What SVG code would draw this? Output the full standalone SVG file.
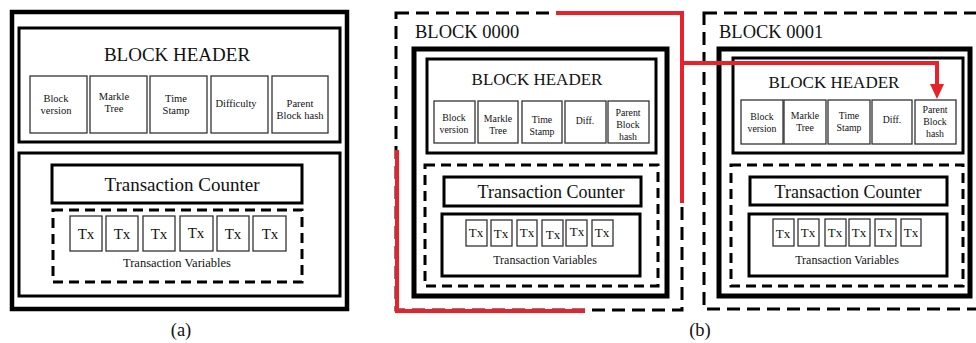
<svg xmlns="http://www.w3.org/2000/svg" width="976" height="343" viewBox="0 0 976 343">
<defs>
<style>
text{font-family:"Liberation Serif","Times New Roman",serif;fill:#111;text-anchor:middle}
.bx{fill:#fff;stroke:#000}
.fld{fill:#fff;stroke:#333;stroke-width:1.3}
.dash{fill:none;stroke:#000;stroke-width:3;stroke-dasharray:10 6}
.odash{fill:none;stroke:#000;stroke-width:3;stroke-dasharray:13 7}
.red{fill:none;stroke:#e8222a;stroke-width:4}
.f10{font-size:10.5px}
.f9{font-size:9.8px}
.tx{font-size:15px}
.tx2{font-size:13px}
.cap{font-size:18.5px}
</style>
</defs>
<rect width="976" height="343" fill="#fff"/>

<!-- Panel (a) -->
<g id="block-a">
<rect class="bx" x="12" y="12" width="335" height="297" stroke-width="4.5"/>
<g id="a-header">
<rect class="bx" x="19" y="28" width="321" height="114" stroke-width="3"/>
<text x="177" y="61" style="font-size:19px">BLOCK HEADER</text>
<rect class="fld" x="30" y="76" width="57" height="57"/>
<rect class="fld" x="90" y="76" width="57" height="57"/>
<rect class="fld" x="150" y="76" width="57" height="57"/>
<rect class="fld" x="211" y="76" width="57" height="57"/>
<rect class="fld" x="272" y="76" width="56" height="57"/>
<text class="f10" x="56" y="102">Block</text><text class="f10" x="56" y="114">version</text>
<text class="f10" x="114" y="100">Markle</text><text class="f10" x="114" y="112">Tree</text>
<text class="f10" x="176" y="102">Time</text><text class="f10" x="176" y="114">Stamp</text>
<text class="f10" x="236" y="107">Difficulty</text>
<text class="f10" x="300" y="107">Parent</text><text class="f10" x="300" y="119">Block hash</text>
</g>
<g id="a-body">
<rect class="bx" x="19" y="153" width="321" height="143" stroke-width="3"/>
<rect class="bx" x="52" y="165" width="250" height="38" stroke-width="3"/>
<text x="182" y="191" style="font-size:19px">Transaction Counter</text>
<rect class="dash" x="53" y="210" width="249" height="72"/>
<rect class="fld" x="70" y="216" width="32" height="35"/>
<rect class="fld" x="106" y="216" width="32" height="35"/>
<rect class="fld" x="143" y="216" width="32" height="35"/>
<rect class="fld" x="180" y="216" width="33" height="35"/>
<rect class="fld" x="217" y="216" width="32" height="35"/>
<rect class="fld" x="253" y="216" width="33" height="35"/>
<text class="tx" x="86" y="239">Tx</text>
<text class="tx" x="122" y="239">Tx</text>
<text class="tx" x="159" y="239">Tx</text>
<text class="tx" x="196" y="238">Tx</text>
<text class="tx" x="233" y="239">Tx</text>
<text class="tx" x="270" y="239">Tx</text>
<text x="177" y="267" style="font-size:12.5px">Transaction Variables</text>
</g>
<text class="cap" x="181" y="336">(a)</text>
</g>

<!-- Block 0000 -->
<g id="block-0000">
<rect class="odash" x="396" y="13" width="286" height="297"/>
<text x="415" y="38" style="font-size:18.5px;text-anchor:start">BLOCK 0000</text>
<rect class="bx" x="414" y="49" width="253" height="247" stroke-width="5"/>
<rect class="bx" x="427" y="59" width="229" height="94" stroke-width="3"/>
<text x="537" y="85" style="font-size:17px">BLOCK HEADER</text>
<rect class="fld" x="434" y="101" width="41" height="42"/>
<rect class="fld" x="478" y="101" width="40" height="42"/>
<rect class="fld" x="522" y="101" width="40" height="42"/>
<rect class="fld" x="565" y="101" width="41" height="42"/>
<rect class="fld" x="608" y="101" width="41" height="42"/>
<text class="f9" x="454" y="121">Block</text><text class="f9" x="454" y="133">version</text>
<text class="f9" x="498" y="122">Markle</text><text class="f9" x="498" y="134">Tree</text>
<text class="f9" x="542" y="123">Time</text><text class="f9" x="542" y="135">Stamp</text>
<text class="f9" x="585" y="124">Diff.</text>
<text class="f9" x="628" y="116">Parent</text><text class="f9" x="628" y="128">Block</text><text class="f9" x="628" y="140">hash</text>
<rect class="dash" x="425" y="165" width="233" height="121" stroke-dasharray="9 5"/>
<rect class="bx" x="444" y="177" width="197" height="29" stroke-width="3"/>
<text x="551" y="198" style="font-size:18px">Transaction Counter</text>
<rect class="bx" x="442" y="214" width="198" height="62" stroke-width="3"/>
<rect class="fld" x="466" y="220" width="21" height="26"/>
<rect class="fld" x="491" y="220" width="21" height="26"/>
<rect class="fld" x="517" y="220" width="20" height="26"/>
<rect class="fld" x="542" y="220" width="21" height="26"/>
<rect class="fld" x="566" y="220" width="21" height="26"/>
<rect class="fld" x="592" y="220" width="21" height="26"/>
<text class="tx2" x="476" y="237">Tx</text>
<text class="tx2" x="501" y="238">Tx</text>
<text class="tx2" x="527" y="237">Tx</text>
<text class="tx2" x="553" y="239">Tx</text>
<text class="tx2" x="577" y="236">Tx</text>
<text class="tx2" x="602" y="237">Tx</text>
<text x="545" y="264" style="font-size:12px">Transaction Variables</text>
</g>

<!-- Block 0001 -->
<g id="block-0001">
<rect class="odash" x="704" y="13" width="290" height="296"/>
<text x="719" y="38" style="font-size:18.5px;text-anchor:start">BLOCK 0001</text>
<rect class="bx" x="719" y="49" width="251" height="247" stroke-width="5"/>
<rect class="bx" x="733" y="58" width="230" height="95" stroke-width="3"/>
<text x="834" y="88" style="font-size:17px">BLOCK HEADER</text>
<rect class="fld" x="741" y="100" width="42" height="44"/>
<rect class="fld" x="784" y="100" width="42" height="44"/>
<rect class="fld" x="828" y="100" width="42" height="44"/>
<rect class="fld" x="872" y="100" width="40" height="44"/>
<rect class="fld" x="915" y="100" width="41" height="44"/>
<text class="f9" x="762" y="120">Block</text><text class="f9" x="762" y="132">version</text>
<text class="f9" x="805" y="119">Markle</text><text class="f9" x="805" y="131">Tree</text>
<text class="f9" x="849" y="119">Time</text><text class="f9" x="849" y="131">Stamp</text>
<text class="f9" x="892" y="123">Diff.</text>
<text class="f9" x="935" y="113">Parent</text><text class="f9" x="935" y="125">Block</text><text class="f9" x="935" y="137">hash</text>
<rect class="dash" x="731" y="165" width="232" height="121" stroke-dasharray="9 5"/>
<rect class="bx" x="750" y="177" width="197" height="28" stroke-width="3"/>
<text x="848" y="198" style="font-size:18px">Transaction Counter</text>
<rect class="bx" x="749" y="214" width="198" height="62" stroke-width="3"/>
<rect class="fld" x="773" y="219" width="21" height="27"/>
<rect class="fld" x="798" y="219" width="21" height="27"/>
<rect class="fld" x="825" y="219" width="21" height="27"/>
<rect class="fld" x="849" y="219" width="21" height="27"/>
<rect class="fld" x="875" y="219" width="21" height="27"/>
<rect class="fld" x="901" y="219" width="20" height="27"/>
<text class="tx2" x="783" y="238">Tx</text>
<text class="tx2" x="808" y="237">Tx</text>
<text class="tx2" x="835" y="237">Tx</text>
<text class="tx2" x="859" y="237">Tx</text>
<text class="tx2" x="885" y="237">Tx</text>
<text class="tx2" x="911" y="237">Tx</text>
<text x="847" y="264" style="font-size:12px">Transaction Variables</text>
</g>
<text class="cap" x="700" y="336">(b)</text>

<!-- Connectors -->
<g id="connectors">
<path class="red" d="M556,13 H682 V203"/>
<path class="red" d="M682,63 H937 V86"/>
<path d="M930,84 L944,84 L937,99 z" fill="#e8222a"/>
<path class="red" d="M397,150 V311 H585"/>
</g>
</svg>
